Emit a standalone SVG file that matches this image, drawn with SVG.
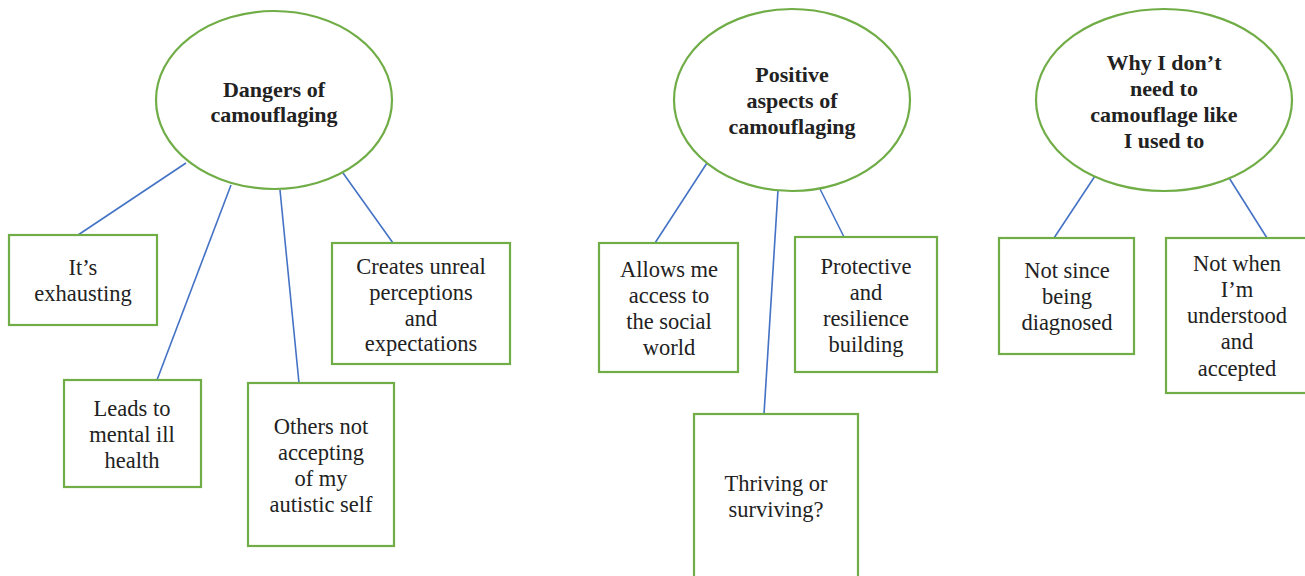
<svg xmlns="http://www.w3.org/2000/svg" width="1305" height="576" viewBox="0 0 1305 576">
<style>
.n{fill:#fff;stroke:#70AD47;stroke-width:2.2}
.t{font-family:"Liberation Serif","Times New Roman",serif;font-size:22.5px;fill:#222;text-anchor:middle}
.b{font-weight:bold;font-size:22px}
.c line{stroke:#4472C4;stroke-width:1.6}
</style>
<rect width="1305" height="576" fill="#fff"/>
<g class="c" id="connectors">
<line x1="186" y1="163" x2="78" y2="235"/>
<line x1="231" y1="185" x2="157" y2="380"/>
<line x1="280" y1="190" x2="299" y2="383"/>
<line x1="343" y1="173" x2="393" y2="243"/>
<line x1="707" y1="163" x2="655" y2="243"/>
<line x1="778" y1="190" x2="764" y2="414"/>
<line x1="820" y1="189" x2="844" y2="237"/>
<line x1="1097" y1="173" x2="1054" y2="238"/>
<line x1="1226" y1="173" x2="1267" y2="238"/>
</g>
<g id="dangers">
<ellipse class="n" cx="274" cy="100" rx="118" ry="89"/>
<text class="t b"><tspan x="274" y="97">Dangers of</tspan><tspan x="274" y="122">camouflaging</tspan></text>
</g>
<g id="exhausting">
<rect class="n" x="9" y="235" width="148" height="90"/>
<text class="t"><tspan x="83" y="275">It’s</tspan><tspan x="83" y="301">exhausting</tspan></text>
</g>
<g id="mental">
<rect class="n" x="64" y="380" width="137" height="107"/>
<text class="t"><tspan x="132" y="416">Leads to</tspan><tspan x="132" y="442">mental ill</tspan><tspan x="132" y="468">health</tspan></text>
</g>
<g id="others">
<rect class="n" x="248" y="383" width="146" height="163"/>
<text class="t"><tspan x="321" y="434">Others not</tspan><tspan x="321" y="460">accepting</tspan><tspan x="321" y="486">of my</tspan><tspan x="321" y="512">autistic self</tspan></text>
</g>
<g id="unreal">
<rect class="n" x="332" y="243" width="178" height="121"/>
<text class="t"><tspan x="421" y="274">Creates unreal</tspan><tspan x="421" y="300">perceptions</tspan><tspan x="421" y="326">and</tspan><tspan x="421" y="351">expectations</tspan></text>
</g>
<g id="positive">
<ellipse class="n" cx="792" cy="100" rx="118" ry="91"/>
<text class="t b"><tspan x="792" y="82">Positive</tspan><tspan x="792" y="108">aspects of</tspan><tspan x="792" y="134">camouflaging</tspan></text>
</g>
<g id="access">
<rect class="n" x="599" y="243" width="139" height="129"/>
<text class="t"><tspan x="669" y="277">Allows me</tspan><tspan x="669" y="303">access to</tspan><tspan x="669" y="329">the social</tspan><tspan x="669" y="355">world</tspan></text>
</g>
<g id="protective">
<rect class="n" x="795" y="237" width="142" height="135"/>
<text class="t"><tspan x="866" y="274">Protective</tspan><tspan x="866" y="300">and</tspan><tspan x="866" y="326">resilience</tspan><tspan x="866" y="352">building</tspan></text>
</g>
<g id="thriving">
<rect class="n" x="694" y="414" width="164" height="170"/>
<text class="t"><tspan x="776" y="491">Thriving or</tspan><tspan x="776" y="517">surviving?</tspan></text>
</g>
<g id="why">
<ellipse class="n" cx="1164" cy="100" rx="128" ry="91"/>
<text class="t b"><tspan x="1164" y="70">Why I don’t</tspan><tspan x="1164" y="96">need to</tspan><tspan x="1164" y="122">camouflage like</tspan><tspan x="1164" y="148">I used to</tspan></text>
</g>
<g id="diagnosed">
<rect class="n" x="999" y="238" width="135" height="116"/>
<text class="t"><tspan x="1067" y="278">Not since</tspan><tspan x="1067" y="304">being</tspan><tspan x="1067" y="330">diagnosed</tspan></text>
</g>
<g id="understood">
<rect class="n" x="1166" y="238" width="145" height="155"/>
<text class="t"><tspan x="1237" y="271">Not when</tspan><tspan x="1237" y="297">I’m</tspan><tspan x="1237" y="323">understood</tspan><tspan x="1237" y="349">and</tspan><tspan x="1237" y="376">accepted</tspan></text>
</g>
</svg>
